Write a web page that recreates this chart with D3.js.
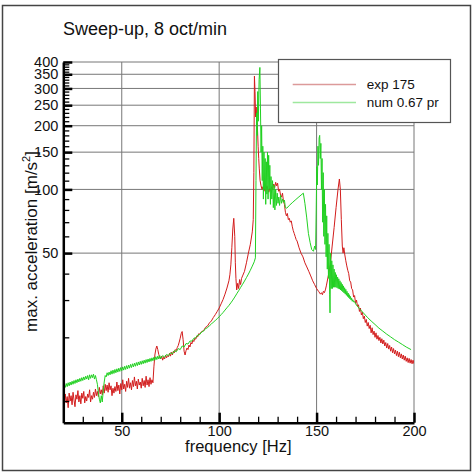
<!DOCTYPE html>
<html><head><meta charset="utf-8">
<script src="https://cdn.jsdelivr.net/npm/d3@7"></script>
<style>body{margin:0;background:#fff}svg{display:block;font-family:"Liberation Sans",Arial,sans-serif}</style>
</head><body><svg id="c" width="474" height="472"></svg>
<script>
const titleText = "Sweep-up, 8 oct/min";
const xLabel = "frequency [Hz]";
const seriesNames = ["exp 175", "num 0.67 pr"];
const xMajorTicks = [50, 100, 150, 200];
const xMinorTicks = [30, 40, 60, 70, 80, 90, 110, 120, 130, 140, 160, 170, 180, 190];
const yMajorTicks = [50, 100, 150, 200, 250, 300, 350, 400];
const yMinorTicks = [10, 20, 30, 40, 60, 70, 80, 90, 110, 120, 130, 140, 160, 170, 180, 190, 210, 220, 230, 240, 260, 270, 280, 290, 310, 320, 330, 340, 360, 370, 380, 390];

// exp 175 : [frequency Hz, max acceleration m/s^2]
const expData = [
[20,10.2],[20.5,9.5],[21,10.8],[21.5,9.8],[22,10.5],[22.5,9.3],[23,10.9],[23.5,10.0],[24,10.6],[24.5,9.6],[25,11.0],[25.5,10.1],[26,9.4],[26.5,10.7],[27,10.2],[27.5,11.2],[28,9.9],[28.5,10.6],[29,9.7],[29.5,10.9],[30,10.3],[30.5,11.1],[31,9.8],[31.5,10.5],[32,10.0],[32.5,10.8],[33,10.4],[33.5,11.3],[34,9.9],[34.5,10.6],[35,10.2],[35.5,11.0],[36,10.4],[36.5,11.4],[37,10.6],[37.5,11.1],[38,10.5],[38.5,11.6],[39,10.8],[39.5,11.3],[40,10.7],[40.5,11.8],[41,10.9],[41.5,12.0],[42,11.2],[42.5,11.9],[43,11.0],[43.5,12.2],[44,11.3],[44.5,11.8],[45,10.6],[45.5,11.5],[46,10.9],[46.5,11.7],[47,11.1],[47.5,12.3],[48,11.2],[48.5,11.9],[49,10.8],[49.5,12.1],[50,11.3],[50.5,12.6],[51,11.4],[51.5,12.0],[52,11.1],[52.5,12.4],[53,11.6],[53.5,12.8],[54,11.5],[54.5,12.2],[55,11.3],[55.5,12.5],[56,11.7],[56.5,13.0],[57,11.8],[57.5,12.4],[58,11.4],[58.5,12.7],[59,11.9],[59.5,12.3],[60,11.5],[60.5,12.8],[61,11.8],[61.5,12.5],[62,11.6],[62.5,13.1],[63,11.9],[63.5,12.6],[64,11.7],[64.5,12.9],[65,12.0],[65.5,12.6],[66,12.2],[66.5,14.5],[67,16.5],[67.5,17.6],[68,18.2],[68.5,17.5],[69,16.6],[69.5,16.0],[70,15.8],[70.5,16.3],[71,15.6],[71.5,16.1],[72,15.8],[72.5,16.5],[73,16.0],[73.5,16.4],[74,16.2],[74.5,16.8],[75,16.3],[75.5,17.0],[76,16.5],[76.5,17.2],[77,16.9],[77.5,17.5],[78,17.3],[78.5,17.9],[79,18.3],[79.5,19.0],[80,19.8],[80.5,20.8],[81,21.3],[81.5,19.5],[82,17.2],[82.5,16.5],[83,17.3],[83.5,17.8],[84,17.5],[84.5,18.4],[85,18.0],[85.5,18.9],[86,18.6],[86.5,19.4],[87,19.1],[87.5,19.8],[88,19.6],[88.5,20.3],[89,20.1],[89.5,20.8],[90,20.7],[91,21.3],[92,21.5],[93,22.3],[94,22.6],[95,23.4],[96,23.9],[97,24.8],[98,25.6],[99,26.5],[100,27.5],[101,28.8],[102,30.2],[103,32.0],[104,34.2],[105,37.0],[105.5,39.5],[106,44],[106.5,53],[107,65],[107.5,73],[108,60],[108.3,45],[108.6,38],[109,33.5],[109.5,36],[110,34],[110.5,37.5],[111,35.5],[111.5,38],[112,39],[113,41],[114,45],[115,50],[116,55],[117,63],[117.5,72],[117.8,120],[118.1,343],[118.4,290],[118.7,220],[119,245],[119.3,210],[119.6,200],[120,160],[120.3,140],[120.6,125],[121,110],[121.5,104],[122,100],[122.5,103],[123,98],[123.5,102],[124,99],[124.5,104],[125,100],[125.5,97],[126,101],[126.5,99],[127,103],[127.5,100],[128,106],[128.5,102],[129,108],[129.5,104],[130,107],[130.5,98],[131,100],[131.5,94],[132,92],[132.5,96],[133,88],[133.5,85],[134,78],[134.5,75],[135,77],[135.5,72],[136,73],[136.5,70],[137,71],[137.5,67],[138,64],[138.5,62],[139,60],[139.5,58],[140,57],[141,53],[142,50],[143,48],[144,45],[145,43],[146,41],[147,39],[148,37],[149,35.5],[150,34],[151,33],[152,32],[152.5,32.5],[153,31.8],[153.5,33],[154,32.5],[154.5,33.5],[155,35],[156,39],[157,44],[158,54],[159,66],[160,82],[161,100],[161.7,112],[162.2,100],[162.7,72],[163.2,54],[163.6,50],[164,53],[164.5,49],
[165,46],[165.5,43.5],[166,41.5],[166.5,40],[167,37],[167.5,36.5],[168,34],[168.5,33.5],[169,31],[169.5,31.5],[170,29],[170.5,30],[171,28],[171.5,28.5],[172,26.5],[172.5,27.5],[173,25.5],[173.5,26.3],[174,24.5],[174.5,25.2],[175,23.5],[175.5,24.3],[176,22.6],[176.5,23.5],[177,22],[177.5,22.8],[178,21],[178.5,22.2],[179,20.6],[179.5,21.4],[180,20],[180.5,21],[181,19.6],[181.5,20.4],[182,19.3],[182.5,20],[183,18.8],[183.5,19.7],[184,18.6],[184.5,19.4],[185,18.2],[185.5,18.9],[186,17.8],[186.5,18.7],[187,17.6],[187.5,18.3],[188,17.2],[188.5,18.0],[189,16.9],[189.5,17.7],[190,16.7],[190.5,17.4],[191,16.4],[191.5,17.2],[192,16.2],[192.5,17.0],[193,16.0],[193.5,16.7],[194,15.8],[194.5,16.5],[195,15.6],[195.5,16.3],[196,15.4],[196.5,16.0],[197,15.2],[197.5,15.9],[198,15.1],[198.5,15.7],[199,15.0],[199.5,15.6],[200,15.0]
];

// num 0.67 pr : [frequency Hz, max acceleration m/s^2]
const numData = [
[20,11.5],[20.5,12.0],[21,11.6],[21.5,12.1],[22,11.7],[22.5,12.2],[23,11.8],[23.5,12.3],[24,11.9],[24.5,12.4],[25,12.0],[25.5,12.5],[26,12.1],[26.5,12.6],[27,12.2],[27.5,12.7],[28,12.3],[28.5,12.8],[29,12.4],[29.5,12.9],[30,12.5],[30.5,13.0],[31,12.6],[31.5,13.1],[32,12.7],[32.5,13.2],[33,12.6],[33.5,13.3],[34,12.8],[34.5,13.3],[35,12.9],[35.5,13.4],[36,12.7],[36.5,13.2],[37,12.6],[37.5,12.0],[38,11.0],[38.5,10.2],[39,9.8],[39.5,10.6],[40,9.9],[40.5,11.2],[41,12.3],[41.5,13.2],[42,13.0],[42.5,13.6],[43,13.2],[43.5,13.7],[44,13.3],[44.5,13.9],[45,13.4],[45.5,14.0],[46,13.5],[46.5,14.1],[47,13.6],[47.5,14.2],[48,13.7],[48.5,14.3],[49,13.8],[49.5,14.4],[50,13.9],[50.5,14.5],[51,14.0],[51.5,14.6],[52,14.1],[52.5,14.7],[53,14.2],[53.5,14.8],[54,14.3],[54.5,14.9],[55,14.4],[55.5,15.0],[56,14.5],[56.5,15.1],[57,14.6],[57.5,15.2],[58,14.7],[58.5,15.3],[59,14.8],[59.5,15.4],[60,14.9],[60.5,15.5],[61,15.0],[61.5,15.6],[62,15.1],[62.5,15.7],[63,15.2],[63.5,15.8],[64,15.3],[64.5,15.9],[65,15.4],[65.5,16.0],[66,15.5],[66.5,16.1],[67,15.6],[67.5,16.2],[68,15.7],[68.5,16.3],[69,15.8],[69.5,16.4],[70,15.9],
[71,16.4],[72,16.1],[73,16.6],[74,16.4],[75,16.9],[76,16.7],[77,17.3],[78,17.1],[79,17.7],[80,17.5],[81,18.2],[82,18.0],[83,18.7],[84,18.6],[85,19.2],[86,19.2],[87,19.8],[88,19.9],[89,20.5],[90,20.6],[91,21.2],[92,21.4],[93,22.0],[94,22.2],[95,22.7],[96,23.1],[97,23.6],[98,24.0],[99,24.5],[100,25.0],[101,25.6],[102,26.2],[103,26.9],[104,27.6],[105,28.3],[106,29.1],[107,30.0],[108,31.0],[109,32.1],[110,33.2],[111,34.4],[112,35.6],[113,36.9],[114,38.3],[115,39.8],[116,41.5],[117,43.4],[118,45.5],[118.6,47.5],
[118.9,110],[119.2,230],[119.5,180],[119.8,290],[120.1,210],[120.5,330],[120.9,377],[121.2,240],[121.5,150],[121.8,200],[122.1,110],[122.4,160],[122.7,90],[123,150],[123.3,100],[123.6,140],[123.9,85],[124.2,135],[124.5,95],[124.8,150],[125.1,90],[125.4,145],[125.7,100],[126,130],[126.3,85],[126.6,115],[127,90],[127.4,110],[127.8,82],[128.2,105],[128.6,80],[129,100],[129.4,84],[129.8,96],[130.2,86],[130.6,92],[131,84],[131.5,94],[132,86],[132.5,90],[133,87],[133.5,89],[134,82],[134.7,81.5],[136,84],[137.5,86.5],[139,89],[140.5,91.5],[142,94],[143.2,96],[144,86],[144.9,74],[145.8,62],[146.7,56],[147.5,52],[148.4,51],[149,54],[149.5,52],[149.8,80],[150.1,128],[150.4,105],[150.7,160],[151,130],[151.3,175],[151.6,180],[151.9,140],[152.2,165],[152.5,100],[152.8,140],
[153.1,70],[153.4,120],[153.7,60],[154,100],[154.3,55],[154.6,85],[154.9,48],[155.2,75],[155.5,42],[155.8,62],[156.1,38],[156.4,55],[156.7,32],[156.9,26.1],[157.2,50],[157.5,34],[157.8,46],[158.1,34],[158.4,44],[158.7,34.5],[159,42],[159.3,34.5],[159.6,40.5],[159.9,34.5],[160.2,39.5],[160.5,34.3],[160.8,38.5],[161.1,34],[161.4,37.8],[161.7,33.8],[162,37],[162.3,33.5],[162.6,36.3],[162.9,33.2],[163.2,35.6],[163.5,32.8],[163.8,35],[164.1,32.4],[164.4,34.3],[164.7,32],[165,33.7],[165.3,31.6],[165.6,33],[165.9,31.2],[166.2,32.4],[166.5,30.8],[166.8,31.8],[167.1,30.4],[167.4,31.2],[167.7,30],[168,30.6],[168.3,29.6],[168.6,30.1],[169,29.4],[169.5,29.5],[170,28.8],[171,28.0],[172,27.3],[174,26.1],[176,24.9],[178,23.9],[180,23.0],[182,22.1],[184,21.4],[186,20.7],[188,20.1],[190,19.5],[192,19.0],[194,18.5],[196,18.0],[198.5,17.5]
];

const colors = ["#d21c1c", "#22d022"];
const legendColors = ["#dc9a9a", "#9ee89e"];

const svg = d3.select("#c");
const L = 63.3, R = 414, T = 62, B = 422.7;
const x = d3.scaleLinear().domain([20, 200]).range([L, R]);
const y = d3.scaleLog().domain([7.9, 400]).range([B, T]);

svg.append("rect").attr("x", 2.5).attr("y", 5.5).attr("width", 468).attr("height", 465)
  .attr("fill", "#fff").attr("stroke", "#444").attr("stroke-width", 1.5);

svg.append("text").attr("x", 63).attr("y", 35).attr("font-size", 18).attr("fill", "#111").text(titleText);

// grid
const grid = svg.append("g").attr("stroke", "#777").attr("stroke-width", 1);
grid.selectAll("line.h").data(yMajorTicks).join("line")
  .attr("x1", L).attr("x2", R).attr("y1", d => y(d)).attr("y2", d => y(d));
grid.selectAll("line.v").data(xMajorTicks).join("line")
  .attr("y1", T).attr("y2", B).attr("x1", d => x(d)).attr("x2", d => x(d));

// data
svg.append("clipPath").attr("id", "clip").append("rect").attr("x", L).attr("y", T).attr("width", R - L).attr("height", B - T);
const line = d3.line().x(d => x(d[0])).y(d => y(d[1]));
const g = svg.append("g").attr("clip-path", "url(#clip)");
[expData, numData].forEach((s, i) => {
  g.append("path").datum(s).attr("d", line).attr("fill", "none")
    .attr("stroke", colors[i]).attr("stroke-width", 1).attr("stroke-linejoin", "round");
});

// axes
function styleAxis(sel, w) {
  sel.select(".domain").attr("stroke", "#000").attr("stroke-width", w);
  sel.selectAll("text").attr("font-family", "Liberation Sans, Arial, sans-serif").attr("fill", "#111");
}
const yMinor = svg.append("g").attr("transform", `translate(${L},0)`)
  .call(d3.axisLeft(y).tickValues(yMinorTicks).tickSizeInner(-6).tickSizeOuter(0).tickFormat(""));
yMinor.selectAll(".tick line").attr("stroke", "#000").attr("stroke-width", 1.3);
yMinor.select(".domain").remove();
const yMaj = svg.append("g").attr("transform", `translate(${L},0)`)
  .call(d3.axisLeft(y).tickValues(yMajorTicks).tickSizeInner(-9).tickSizeOuter(0).tickPadding(5).tickFormat(d3.format("d")));
yMaj.selectAll(".tick line").attr("stroke", "#000").attr("stroke-width", 2.5);
yMaj.selectAll("text").attr("font-size", 14.5);
styleAxis(yMaj, 2.5);

const xMinor = svg.append("g").attr("transform", `translate(0,${B})`)
  .call(d3.axisBottom(x).tickValues(xMinorTicks).tickSizeInner(-6).tickSizeOuter(0).tickFormat(""));
xMinor.selectAll(".tick line").attr("stroke", "#000").attr("stroke-width", 1.3);
xMinor.select(".domain").remove();
const xMaj = svg.append("g").attr("transform", `translate(0,${B})`)
  .call(d3.axisBottom(x).tickValues(xMajorTicks).tickSizeInner(-10).tickSizeOuter(0).tickPadding(3).tickFormat(d3.format("d")));
xMaj.selectAll(".tick line").attr("stroke", "#000").attr("stroke-width", 2.5);
xMaj.selectAll("text").attr("font-size", 14.5);
styleAxis(xMaj, 2.5);

svg.append("text").attr("x", 238.3).attr("y", 452).attr("text-anchor", "middle").attr("font-size", 16.5).attr("fill", "#111").text(xLabel);
const yl = svg.append("text").attr("transform", "translate(36.5,241.5) rotate(-90)").attr("text-anchor", "middle")
  .attr("font-size", 17).attr("fill", "#111");
yl.append("tspan").text("max. acceleration [m/s");
yl.append("tspan").attr("font-size", 11).attr("dy", -7).text("2");
yl.append("tspan").attr("dy", 7).text("]");

// legend
const lg = svg.append("g");
lg.append("rect").attr("x", 278.5).attr("y", 59.5).attr("width", 172).attr("height", 63)
  .attr("fill", "#fff").attr("stroke", "#555").attr("stroke-width", 1.2);
seriesNames.forEach((n, i) => {
  const yy = 84.5 + i * 18;
  lg.append("line").attr("x1", 292.7).attr("x2", 356).attr("y1", yy).attr("y2", yy)
    .attr("stroke", legendColors[i]).attr("stroke-width", 1.5);
  lg.append("text").attr("x", 366.7).attr("y", yy + 4.6).attr("font-size", 13.5).attr("fill", "#111").text(n);
});
</script></body></html>
